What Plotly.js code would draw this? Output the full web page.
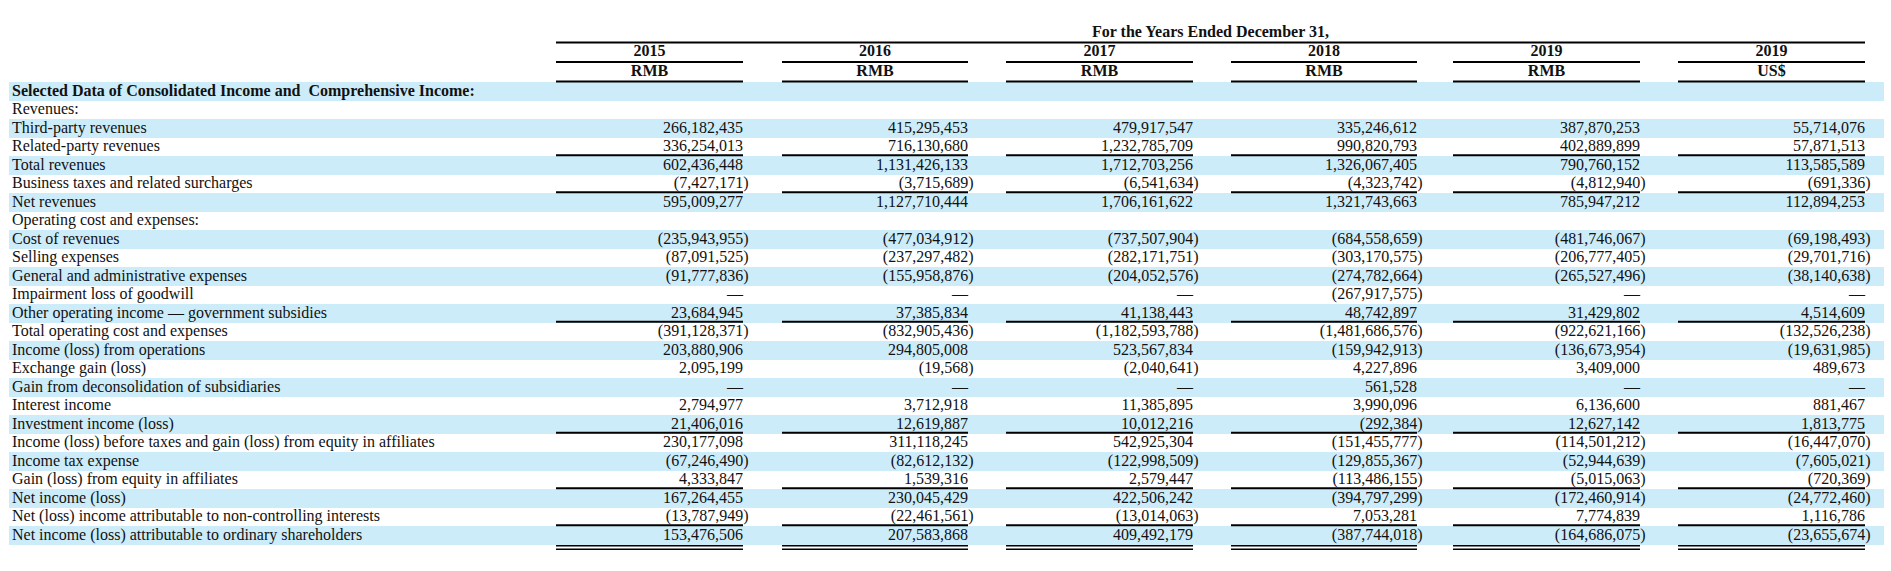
<!DOCTYPE html>
<html>
<head>
<meta charset="utf-8">
<script src="https://cdn.plot.ly/plotly-3.0.1.min.js"></script>
<style>
html, body { margin: 0; padding: 0; background: #ffffff; }
#chart { width: 1891px; height: 571px; }
</style>
</head>
<body>
<div id="chart"></div>
<script>
// ---------------- DATA ----------------
const headerTitle = "For the Years Ended December 31,";
const years = ["2015", "2016", "2017", "2018", "2019", "2019"];
const units = ["RMB", "RMB", "RMB", "RMB", "RMB", "US$"];

const rowLabels = [
  "Selected Data of Consolidated Income and  Comprehensive Income:",
  "Revenues:",
  "Third-party revenues",
  "Related-party revenues",
  "Total revenues",
  "Business taxes and related surcharges",
  "Net revenues",
  "Operating cost and expenses:",
  "Cost of revenues",
  "Selling expenses",
  "General and administrative expenses",
  "Impairment loss of goodwill",
  "Other operating income \u2014 government subsidies",
  "Total operating cost and expenses",
  "Income (loss) from operations",
  "Exchange gain (loss)",
  "Gain from deconsolidation of subsidiaries",
  "Interest income",
  "Investment income (loss)",
  "Income (loss) before taxes and gain (loss) from equity in affiliates",
  "Income tax expense",
  "Gain (loss) from equity in affiliates",
  "Net income (loss)",
  "Net (loss) income attributable to non-controlling interests",
  "Net income (loss) attributable to ordinary shareholders"
];
const boldRows = [0];

// null = empty cell, 0 = shown as a dash
const rmb2015 = [null, null, 266182435, 336254013, 602436448, -7427171, 595009277, null,
  -235943955, -87091525, -91777836, 0, 23684945, -391128371, 203880906, 2095199, 0,
  2794977, 21406016, 230177098, -67246490, 4333847, 167264455, -13787949, 153476506];
const rmb2016 = [null, null, 415295453, 716130680, 1131426133, -3715689, 1127710444, null,
  -477034912, -237297482, -155958876, 0, 37385834, -832905436, 294805008, -19568, 0,
  3712918, 12619887, 311118245, -82612132, 1539316, 230045429, -22461561, 207583868];
const rmb2017 = [null, null, 479917547, 1232785709, 1712703256, -6541634, 1706161622, null,
  -737507904, -282171751, -204052576, 0, 41138443, -1182593788, 523567834, -2040641, 0,
  11385895, 10012216, 542925304, -122998509, 2579447, 422506242, -13014063, 409492179];
const rmb2018 = [null, null, 335246612, 990820793, 1326067405, -4323742, 1321743663, null,
  -684558659, -303170575, -274782664, -267917575, 48742897, -1481686576, -159942913, 4227896, 561528,
  3990096, -292384, -151455777, -129855367, -113486155, -394797299, 7053281, -387744018];
const rmb2019 = [null, null, 387870253, 402889899, 790760152, -4812940, 785947212, null,
  -481746067, -206777405, -265527496, 0, 31429802, -922621166, -136673954, 3409000, 0,
  6136600, 12627142, -114501212, -52944639, -5015063, -172460914, 7774839, -164686075];
const usd2019 = [null, null, 55714076, 57871513, 113585589, -691336, 112894253, null,
  -69198493, -29701716, -38140638, 0, 4514609, -132526238, -19631985, 489673, 0,
  881467, 1813775, -16447070, -7605021, -720369, -24772460, 1116786, -23655674];

const columns = [rmb2015, rmb2016, rmb2017, rmb2018, rmb2019, usd2019];

// rows that have a rule above them (subtotal lines); double rule under the last row
const ruleAboveRows = [4, 6, 13, 19, 22, 24];
const doubleRuleRow = 24;

// ---------------- LAYOUT CONSTANTS ----------------
const W = 1891, H = 571;
const FONT = "Liberation Serif, Times New Roman, serif";
const FS = 16;
const colLeft = [556, 782, 1006, 1231, 1453, 1678];
const colRight = [743, 968, 1193, 1417, 1640, 1865];
const parenW = 5.5;
const rowTop0 = 82.3, rowH = 18.5;
const bandX0 = 9, bandX1 = 1884;
const labelX = 12;
const yTitle = 32.5, yYear = 52, yUnit = 72.3;
const yTopRule = 42.5, yYearRule = 62, yUnitRule = 81.5;
const bandColor = "#cdecfa";

function rowCenter(i) { return rowTop0 + rowH * (i + 0.5); }
function rowTop(i) { return rowTop0 + rowH * i; }

function fmt(v) {
  if (v === null) return "";
  if (v === 0) return "\u2014";
  const s = Math.abs(v).toLocaleString("en-US");
  return v < 0 ? "(" + s + ")" : s;
}

const traces = [];

// bands (alternating row shading)
const rowIdx = rowLabels.map((_, i) => i);
traces.push({
  type: "bar", orientation: "h",
  y: rowIdx.map(rowCenter),
  x: rowIdx.map(() => bandX1 - bandX0),
  base: bandX0,
  width: rowH,
  marker: { color: rowIdx.map(i => i % 2 === 0 ? bandColor : "rgba(255,255,255,0)"), line: { width: 0 } },
  hoverinfo: "skip", showlegend: false
});

// row labels
traces.push({
  type: "scatter", mode: "text",
  x: rowIdx.map(() => labelX),
  y: rowIdx.map(rowCenter),
  text: rowLabels.map((t, i) => boldRows.includes(i) ? "<b>" + t + "</b>" : t),
  textposition: "middle right",
  textfont: { family: FONT, size: FS, color: "#111" },
  cliponaxis: false, hoverinfo: "skip", showlegend: false
});

// numeric columns
columns.forEach((vals, c) => {
  traces.push({
    type: "scatter", mode: "text",
    x: vals.map(v => (v !== null && v < 0) ? colRight[c] + parenW : colRight[c]),
    y: vals.map((v, i) => rowCenter(i)),
    text: vals.map(fmt),
    textposition: "middle left",
    textfont: { family: FONT, size: FS, color: "#111" },
    cliponaxis: false, hoverinfo: "skip", showlegend: false
  });
});

// header texts
const colCenter = colLeft.map((l, c) => (l + colRight[c]) / 2);
traces.push({
  type: "scatter", mode: "text",
  x: [(colLeft[0] + colRight[colRight.length - 1]) / 2].concat(colCenter, colCenter),
  y: [yTitle].concat(years.map(() => yYear), units.map(() => yUnit)),
  text: ["<b>" + headerTitle + "</b>"].concat(years.map(t => "<b>" + t + "</b>"), units.map(t => "<b>" + t + "</b>")),
  textposition: "middle center",
  textfont: { family: FONT, size: FS, color: "#111" },
  cliponaxis: false, hoverinfo: "skip", showlegend: false
});

// rules
const shapes = [];
function hline(x0, x1, y, w) {
  shapes.push({ type: "line", xref: "x", yref: "y", x0: x0, x1: x1, y0: y, y1: y,
    line: { color: "#000", width: w } });
}
hline(colLeft[0], colRight[colRight.length - 1], yTopRule, 2);
colLeft.forEach((l, c) => {
  hline(l, colRight[c], yYearRule, 2);
  hline(l, colRight[c], yUnitRule, 2);
  ruleAboveRows.forEach(r => hline(l, colRight[c], rowTop(r) - 1, 2));
  const b = rowTop(doubleRuleRow + 1);
  hline(l, colRight[c], b + 1, 1.5);
  hline(l, colRight[c], b + 4.5, 1.5);
});

const layout = {
  width: W, height: H,
  margin: { l: 0, r: 0, t: 0, b: 0, pad: 0 },
  paper_bgcolor: "#ffffff", plot_bgcolor: "#ffffff",
  showlegend: false,
  bargap: 0,
  xaxis: { range: [0, W], visible: false, fixedrange: true },
  yaxis: { range: [H, 0], visible: false, fixedrange: true },
  shapes: shapes
};

Plotly.newPlot("chart", traces, layout, { displayModeBar: false, staticPlot: true });
</script>
</body>
</html>
